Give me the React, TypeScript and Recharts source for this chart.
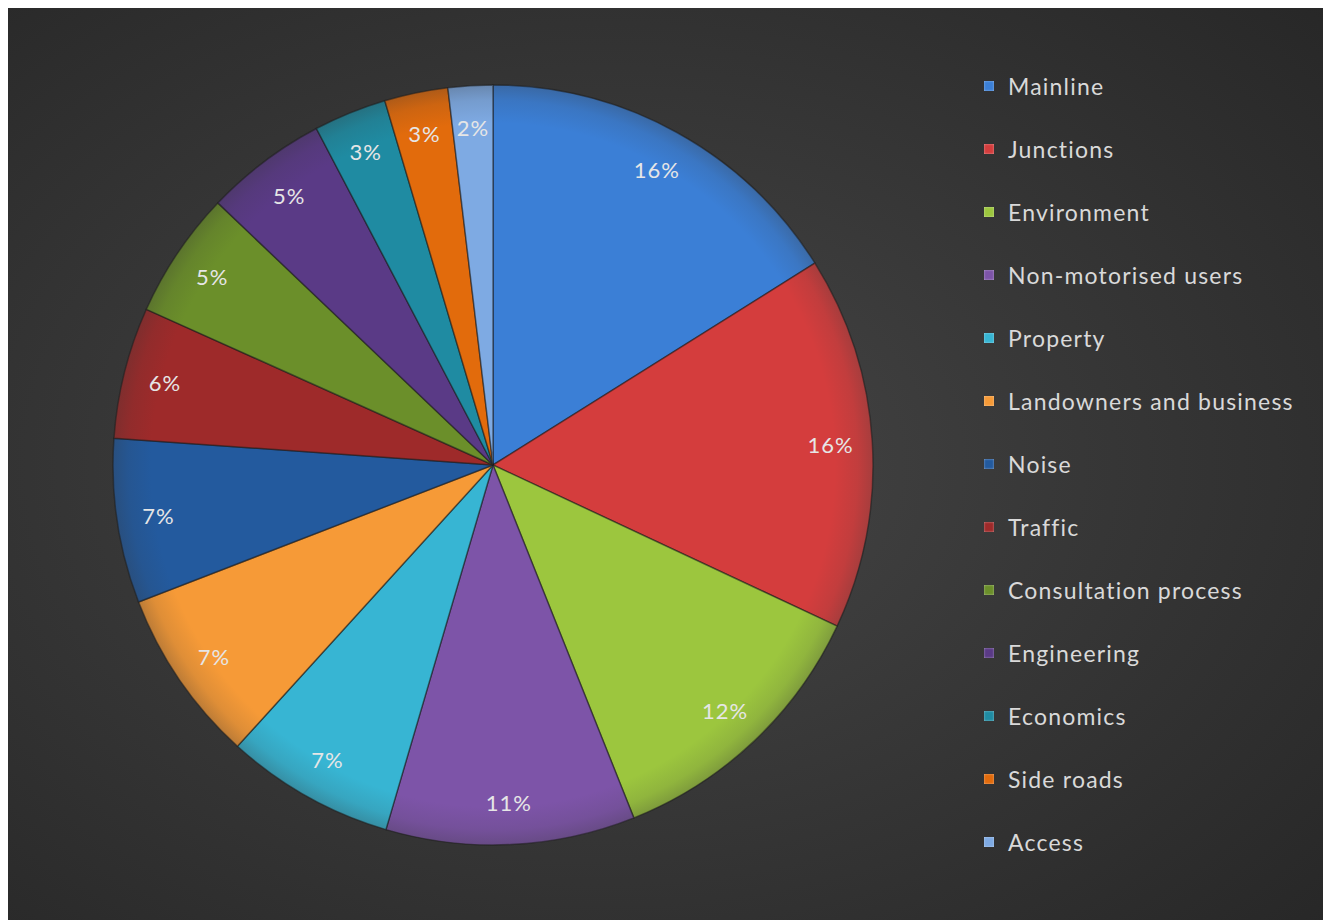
import React from "react";
import { PieChart, Pie, Cell, Legend } from "recharts";

const categories = [
  "Mainline",
  "Junctions",
  "Environment",
  "Non-motorised users",
  "Property",
  "Landowners and business",
  "Noise",
  "Traffic",
  "Consultation process",
  "Engineering",
  "Economics",
  "Side roads",
  "Access",
];

const values = [16.1, 15.9, 12.0, 10.6, 7.2, 7.4, 7.0, 5.6, 5.4, 5.2, 3.1, 2.7, 1.9];

const colors = [
  "#3b7fd6",
  "#d43d3d",
  "#9cc63e",
  "#7d54a8",
  "#37b5d3",
  "#f69a37",
  "#235a9e",
  "#9e2a2a",
  "#6b8f2a",
  "#5a3a86",
  "#1f8ba2",
  "#e26b0c",
  "#7eaae3",
];

const data = categories.map((name, i) => ({ name, value: values[i] }));

const RAD = Math.PI / 180;
const CX = 486;
const CY = 457;
const R = 380;

const renderLabel = (props: any) => {
  const { cx, cy, midAngle, outerRadius, percent } = props;
  const r = outerRadius * 0.89;
  const x = cx + r * Math.cos(-midAngle * RAD);
  const y = cy + r * Math.sin(-midAngle * RAD);
  return (
    <text
      x={x}
      y={y}
      fill="#e6e6e6"
      textAnchor="middle"
      dominantBaseline="central"
      style={{ fontFamily: "Lato, 'Open Sans', sans-serif", fontSize: 22, letterSpacing: 1 }}
    >
      {`${Math.round(percent * 100)}%`}
    </text>
  );
};

const renderLegend = () => (
  <div style={{ fontFamily: "Lato, 'Open Sans', sans-serif" }}>
    {categories.map((name, i) => (
      <div
        key={name}
        style={{ height: 63, display: "flex", alignItems: "center" }}
      >
        <span
          style={{
            display: "inline-block",
            width: 10,
            height: 10,
            background: colors[i],
            marginRight: 14,
            boxShadow: "inset 0 0 2px rgba(255,255,255,0.6)",
          }}
        />
        <span style={{ color: "#d9d9d9", fontSize: 23, letterSpacing: 1.2 }}>{name}</span>
      </div>
    ))}
  </div>
);

export default function App() {
  return (
    <div
      style={{
        width: 1324,
        height: 912,
        marginLeft: -1,
        background:
          "radial-gradient(ellipse 75% 75% at 45% 50%, #474747 0%, #383838 45%, #272727 100%)",
      }}
    >
      <PieChart width={1324} height={912} margin={{ top: 0, right: 0, bottom: 0, left: 0 }}>
        <defs>
          {colors.map((c, i) => (
            <radialGradient
              key={i}
              id={`g${i}`}
              gradientUnits="userSpaceOnUse"
              cx={CX}
              cy={CY}
              r={R}
            >
              <stop offset="0%" stopColor={c} />
              <stop offset="90%" stopColor={c} />
              <stop offset="96%" stopColor={c} stopOpacity={0.88} />
              <stop offset="100%" stopColor={c} stopOpacity={0.7} />
            </radialGradient>
          ))}
        </defs>
        <Pie
          data={data}
          dataKey="value"
          nameKey="name"
          cx={CX}
          cy={CY}
          outerRadius={R}
          startAngle={90}
          endAngle={-270}
          label={renderLabel}
          labelLine={false}
          isAnimationActive={false}
          stroke="rgba(30,30,30,0.55)"
          strokeWidth={1.5}
        >
          {data.map((d, i) => (
            <Cell key={d.name} fill={`url(#g${i})`} />
          ))}
        </Pie>
        <Legend
          content={renderLegend}
          wrapperStyle={{ position: "absolute", left: 977, top: 46, width: 345 }}
        />
      </PieChart>
    </div>
  );
}
